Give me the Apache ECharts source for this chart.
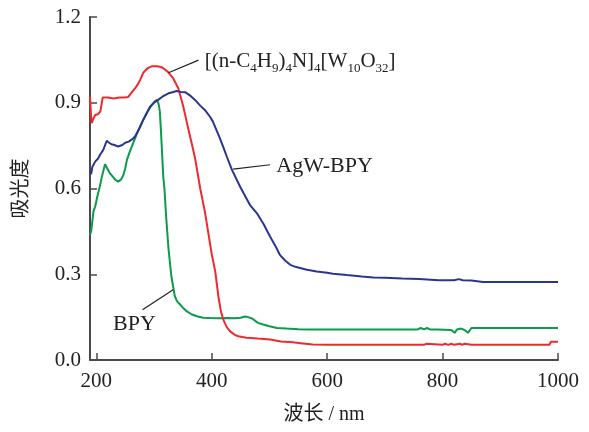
<!DOCTYPE html>
<html>
<head>
<meta charset="utf-8">
<script src="https://cdn.jsdelivr.net/npm/echarts@6/dist/echarts.min.js"></script>
<style>
  html, body { margin: 0; padding: 0; background: #fff; }
  #chart { width: 589px; height: 432px; }
</style>
</head>
<body>
<div id="chart"></div>
<script>
// 紫外-可见吸收光谱：[(n-C4H9)4N]4[W10O32]、BPY、AgW-BPY

const xTicks = [200, 400, 600, 800, 1000];

// [(n-C4H9)4N]4[W10O32] — 红
const wlW10 = [189, 191, 192, 195, 198, 203, 207, 211, 220, 230, 240, 250, 255, 261, 267, 272, 276, 281, 286, 290, 297, 305, 312, 316, 324, 333, 342, 350, 359, 365, 371, 380, 388, 394, 400, 406, 412, 416, 420, 426, 432, 440, 446, 460, 480, 501, 520, 540, 558, 575, 600, 650, 700, 703, 706, 760, 763, 768, 772, 800, 804, 810, 815, 820, 830, 834, 838, 850, 985, 988, 1000];
const absW10 = [0.921, 0.85, 0.829, 0.845, 0.857, 0.86, 0.87, 0.918, 0.918, 0.915, 0.918, 0.918, 0.92, 0.935, 0.95, 0.965, 0.98, 1.004, 1.015, 1.022, 1.028, 1.028, 1.025, 1.021, 1.008, 0.986, 0.951, 0.892, 0.812, 0.76, 0.707, 0.6, 0.52, 0.445, 0.37, 0.31, 0.215, 0.17, 0.141, 0.115, 0.1, 0.088, 0.083, 0.078, 0.075, 0.072, 0.065, 0.062, 0.058, 0.054, 0.053, 0.053, 0.053, 0.057, 0.053, 0.053, 0.057, 0.053, 0.057, 0.053, 0.057, 0.053, 0.057, 0.053, 0.057, 0.053, 0.057, 0.053, 0.053, 0.064, 0.064];

// BPY — 绿
const wlBpy = [189, 191, 195, 198, 202, 206, 210, 215, 219, 223, 227, 233, 238, 243, 247, 250, 253, 258, 265, 273, 280, 287, 296, 301, 305, 308, 310, 312, 314, 316, 318, 321, 325, 330, 336, 340, 345, 350, 357, 365, 374, 385, 397, 410, 426, 440, 450, 458, 463, 470, 480, 489, 500, 513, 530, 550, 567, 750, 752, 757, 762, 768, 773, 778, 790, 815, 821, 825, 832, 838, 844, 850, 1000];
const absBpy = [0.438, 0.45, 0.52, 0.537, 0.575, 0.607, 0.645, 0.685, 0.67, 0.655, 0.645, 0.63, 0.624, 0.632, 0.648, 0.67, 0.7, 0.729, 0.765, 0.805, 0.835, 0.863, 0.892, 0.905, 0.91, 0.895, 0.87, 0.8, 0.72, 0.64, 0.6, 0.5, 0.39, 0.293, 0.223, 0.205, 0.194, 0.183, 0.17, 0.16, 0.153, 0.148, 0.147, 0.146, 0.147, 0.146, 0.148, 0.152, 0.15, 0.145, 0.13, 0.124, 0.118, 0.112, 0.11, 0.108, 0.107, 0.107, 0.112, 0.107, 0.112, 0.107, 0.112, 0.107, 0.107, 0.105, 0.095, 0.107, 0.11, 0.105, 0.095, 0.112, 0.112];

// AgW-BPY — 蓝
const wlAgw = [189, 191, 193, 198, 203, 207, 212, 218, 222, 226, 230, 238, 245, 250, 256, 262, 267, 272, 276, 280, 284, 289, 293, 300, 307, 315, 325, 332, 339, 346, 354, 362, 371, 380, 388, 397, 402, 408, 414, 420, 426, 435, 449, 455, 466, 478, 490, 501, 510, 518, 527, 536, 545, 553, 565, 582, 600, 610, 634, 660, 680, 700, 730, 760, 793, 820, 828, 835, 850, 870, 1000];
const absAgw = [0.66, 0.65, 0.675, 0.694, 0.705, 0.72, 0.735, 0.767, 0.76, 0.755, 0.753, 0.747, 0.752, 0.76, 0.764, 0.772, 0.782, 0.8, 0.816, 0.835, 0.851, 0.87, 0.886, 0.9, 0.91, 0.922, 0.933, 0.937, 0.941, 0.938, 0.937, 0.926, 0.91, 0.89, 0.875, 0.851, 0.834, 0.805, 0.776, 0.745, 0.712, 0.665, 0.607, 0.584, 0.543, 0.514, 0.475, 0.432, 0.4, 0.368, 0.348, 0.333, 0.326, 0.322, 0.316, 0.31, 0.305, 0.302, 0.297, 0.292, 0.289, 0.288, 0.285, 0.283, 0.279, 0.279, 0.283, 0.279, 0.278, 0.273, 0.273];

// 标注：引线两端 + 文字锚点（数据坐标）
const leadW10 = [[325, 1.005], [377, 1.049]];
const textW10 = [387, 1.043];
const leadAgw = [[437, 0.668], [501, 0.683]];
const textAgw = [511, 0.677];
const leadBpy = [[280, 0.176], [333, 0.246]];
const textBpy = [228, 0.124];

const SERIF = '"Liberation Serif", "Times New Roman", "Noto Sans CJK SC", serif';
const AXIS_CLR = "#4a4a4a";
const INK = "#222";

const pairs = (xs, ys) => xs.map((x, i) => [x, ys[i]]);

function note(lead, anchor, label, rich) {
  return {
    markLine: {
      silent: true, symbol: "none", animation: false,
      lineStyle: { color: INK, width: 1.2, type: "solid" },
      label: { show: false },
      data: [[{ coord: lead[0] }, { coord: lead[1] }]],
    },
    markPoint: {
      silent: true, animation: false,
      symbol: "circle", symbolSize: 1,
      itemStyle: { color: "rgba(0,0,0,0)" },
      label: {
        show: true, position: "right", distance: 0,
        color: INK, fontFamily: SERIF, fontSize: 22,
        formatter: label, rich: rich || {},
      },
      data: [{ coord: anchor }],
    },
  };
}

const subRich = {
  b: { fontFamily: SERIF, fontSize: 21, color: INK, lineHeight: 26, verticalAlign: "middle" },
  s: { fontFamily: SERIF, fontSize: 13, color: INK, lineHeight: 26, verticalAlign: "bottom" },
};

const chart = echarts.init(document.getElementById("chart"), null, { renderer: "canvas" });

chart.setOption({
  backgroundColor: "#fff", animation: false,
  grid: { left: 90, right: 31, top: 17, bottom: 72, containLabel: false },
  xAxis: {
    type: "value", min: 189, max: 1000,
    name: "波长 / nm", nameLocation: "middle", nameGap: 45,
    nameTextStyle: { color: INK, fontFamily: SERIF, fontSize: 20 },
    axisLine: { show: true, onZero: false, lineStyle: { color: AXIS_CLR, width: 2 } },
    axisTick: { show: true, inside: true, length: 7, customValues: xTicks, lineStyle: { color: AXIS_CLR, width: 1.5 } },
    axisLabel: { customValues: xTicks, color: INK, fontFamily: SERIF, fontSize: 21, margin: 11, formatter: v => String(v) },
    splitLine: { show: false },
  },
  yAxis: {
    type: "value", min: 0, max: 1.2, interval: 0.3,
    name: "吸光度", nameLocation: "middle", nameGap: 58, nameRotate: 90,
    nameTextStyle: { color: INK, fontFamily: SERIF, fontSize: 20 },
    axisLine: { show: true, lineStyle: { color: AXIS_CLR, width: 2 } },
    axisTick: { show: true, inside: true, length: 7, lineStyle: { color: AXIS_CLR, width: 1.5 } },
    axisLabel: { color: INK, fontFamily: SERIF, fontSize: 21, margin: 9, formatter: v => v.toFixed(1) },
    splitLine: { show: false },
  },
  series: [
    {
      name: "[(n-C4H9)4N]4[W10O32]", type: "line", data: pairs(wlW10, absW10),
      showSymbol: false, lineStyle: { color: "#ee2a2f", width: 2 }, z: 3,
      ...note(leadW10, textW10,
        "{b|[(n-C}{s|4}{b|H}{s|9}{b|)}{s|4}{b|N]}{s|4}{b|[W}{s|10}{b|O}{s|32}{b|]}", subRich),
    },
    {
      name: "BPY", type: "line", data: pairs(wlBpy, absBpy),
      showSymbol: false, lineStyle: { color: "#0c9a4c", width: 2 }, z: 2,
      ...note(leadBpy, textBpy, "BPY"),
    },
    {
      name: "AgW-BPY", type: "line", data: pairs(wlAgw, absAgw),
      showSymbol: false, lineStyle: { color: "#2b3591", width: 2 }, z: 4,
      ...note(leadAgw, textAgw, "AgW-BPY"),
    },
  ],
});
</script>
</body>
</html>
